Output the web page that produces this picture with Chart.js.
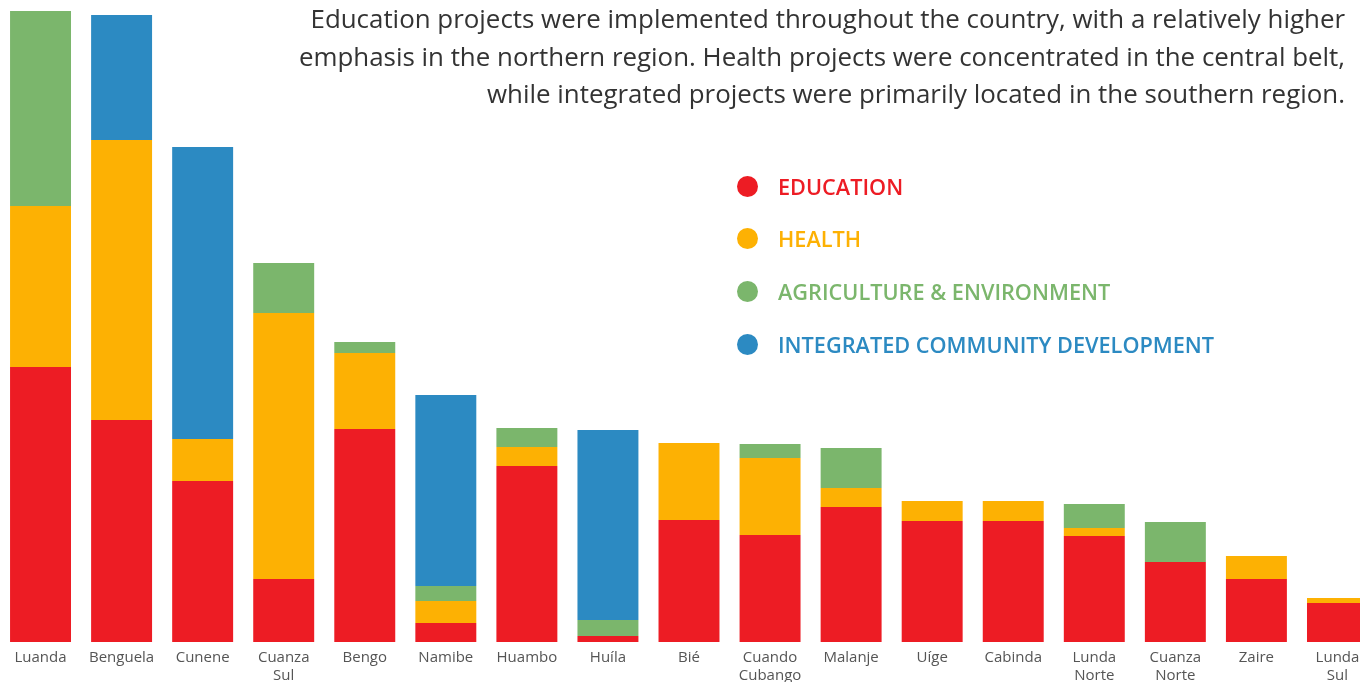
<!DOCTYPE html>
<html>
<head>
<meta charset="utf-8">
<script src="https://cdn.jsdelivr.net/npm/chart.js@4.4.0/dist/chart.umd.min.js"></script>
<style>
  html,body{margin:0;padding:0;background:#fff;overflow:hidden;width:1360px;height:682px}
  #wrap{position:absolute;left:0;top:0;width:1378px;height:692px}
  #note{position:absolute;right:15px;top:0;text-align:right;font-family:"Open Sans",sans-serif;font-size:25.9px;line-height:37.5px;color:#333;margin:0}
  #legend{position:absolute;left:737px;top:172px;font-family:"Open Sans",sans-serif;font-weight:600;font-size:21.7px}
  .lg{display:flex;align-items:center;height:28px;margin-bottom:24.7px}
  .dot{width:21px;height:21px;border-radius:50%;margin-right:20px}
</style>
</head>
<body>
<div id="wrap"><canvas id="c"></canvas></div>
<p id="note">Education projects were implemented throughout the country, with a relatively higher<br>emphasis in the northern region. Health projects were concentrated in the central belt,<br>while integrated projects were primarily located in the southern region.</p>
<div id="legend"></div>
<script>
const PROVINCES = ['Luanda','Benguela','Cunene',['Cuanza','Sul'],'Bengo','Namibe','Huambo','Huíla','Bié',['Cuando','Cubango'],'Malanje','Uíge','Cabinda',['Lunda','Norte'],['Cuanza','Norte'],'Zaire',['Lunda','Sul']];
const education   = [275,222,161, 63,213, 19,176,  6,122,107,135,121,121,106, 80, 63, 39];
const health      = [161,280, 42,266, 76, 22, 19,  0, 77, 77, 19, 20, 20,  8,  0, 23,  5];
const agriculture = [195,  0,  0, 50, 11, 15, 19, 16,  0, 14, 40,  0,  0, 24, 40,  0,  0];
const integrated  = [  0,125,292,  0,  0,191,  0,190,  0,  0,  0,  0,  0,  0,  0,  0,  0];

const SERIES = [
  {label:'EDUCATION', data:education, color:'#ED1C24'},
  {label:'HEALTH', data:health, color:'#FDB103'},
  {label:'AGRICULTURE & ENVIRONMENT', data:agriculture, color:'#7BB66C'},
  {label:'INTEGRATED COMMUNITY DEVELOPMENT', data:integrated, color:'#2C8AC2'},
];

document.getElementById('legend').innerHTML = SERIES.map(s=>`<div class="lg"><div class="dot" style="background:${s.color}"></div><span style="color:${s.color}">${s.label}</span></div>`).join('');

new Chart(document.getElementById('c'),{type:'bar',
  data:{labels:PROVINCES,datasets:SERIES.map(s=>({label:s.label,data:s.data,backgroundColor:s.color,borderWidth:0,categoryPercentage:1,barPercentage:0.752}))},
  options:{responsive:true,maintainAspectRatio:false,animation:false,
    layout:{padding:{top:11,left:0,right:0,bottom:0}},
    plugins:{legend:{display:false},tooltip:{enabled:false}},
    scales:{
      x:{stacked:true,grid:{display:false,drawTicks:false},border:{display:false},
         ticks:{autoSkip:false,maxRotation:0,padding:7,color:'#555',font:{family:'Open Sans',size:15,lineHeight:1.2}}},
      y:{stacked:true,display:false,min:0,max:631}
    }}
});
</script>
</body>
</html>
